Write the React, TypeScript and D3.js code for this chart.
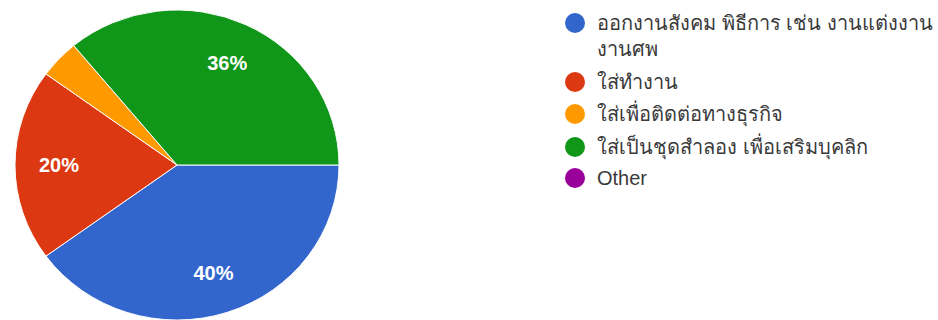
import React from "react";
import * as d3 from "d3";

const categories = [
  "ออกงานสังคม พิธีการ เช่น งานแต่งงาน งานศพ",
  "ใส่ทำงาน",
  "ใส่เพื่อติดต่อทางธุรกิจ",
  "ใส่เป็นชุดสำลอง เพื่อเสริมบุคลิก",
  "Other",
];
const legendLines = [
  ["ออกงานสังคม พิธีการ เช่น งานแต่งงาน", "งานศพ"],
  ["ใส่ทำงาน"],
  ["ใส่เพื่อติดต่อทางธุรกิจ"],
  ["ใส่เป็นชุดสำลอง เพื่อเสริมบุคลิก"],
  ["Other"],
];
const values = [40, 20, 4, 36, 0];
const colors = ["#3366cc", "#dc3912", "#ff9900", "#109618", "#990099"];

const W = 938;
const H = 320;
const cx = 177;
const cy = 165;
const R = 162;
const yScale = 155 / 162;
const labelR = 118;

export default function App() {
  const pie = d3
    .pie<number>()
    .value((d) => d)
    .sort(null)
    .startAngle(Math.PI / 2)
    .endAngle(Math.PI / 2 + 2 * Math.PI);
  const arcs = pie(values);
  const arc = d3.arc<d3.PieArcDatum<number>>().innerRadius(0).outerRadius(R);
  const total = d3.sum(values);
  const font = "Arial, 'Liberation Sans', sans-serif";

  const legendX = 575;
  const textX = 597;
  const rowTops = [23, 82, 114, 147, 178];
  return (
    <svg
      width={W}
      height={H}
      style={{ position: "absolute", left: 0, top: 0, background: "#fff" }}
    >
      <g transform={`translate(${cx},${cy}) scale(1,${yScale})`}>
        {arcs.map((a, i) =>
          a.value > 0 ? (
            <path
              key={i}
              d={arc(a) || ""}
              fill={colors[i]}
              stroke="#fff"
              strokeWidth={1}
            />
          ) : null
        )}
      </g>
      {arcs.map((a, i) => {
        const pct = a.value / total;
        if (pct < 0.05) return null;
        const mid = (a.startAngle + a.endAngle) / 2;
        const x = cx + labelR * Math.sin(mid);
        const y = cy - labelR * yScale * Math.cos(mid);
        return (
          <text
            key={i}
            x={x}
            y={y}
            dy="0.36em"
            textAnchor="middle"
            fill="#fff"
            fontFamily={font}
            fontSize={20}
            fontWeight="bold"
          >
            {d3.format(".0%")(pct)}
          </text>
        );
      })}
      {legendLines.map((lines, i) => (
        <g key={i}>
          <circle cx={legendX} cy={rowTops[i]} r={10} fill={colors[i]} />
          {lines.map((ln, j) => (
            <text
              key={j}
              x={textX}
              y={rowTops[i] + j * 26}
              dy="0.36em"
              fill="#3a3a3a"
              fontFamily={font}
              fontSize={20}
            >
              {ln}
            </text>
          ))}
        </g>
      ))}
    </svg>
  );
}
